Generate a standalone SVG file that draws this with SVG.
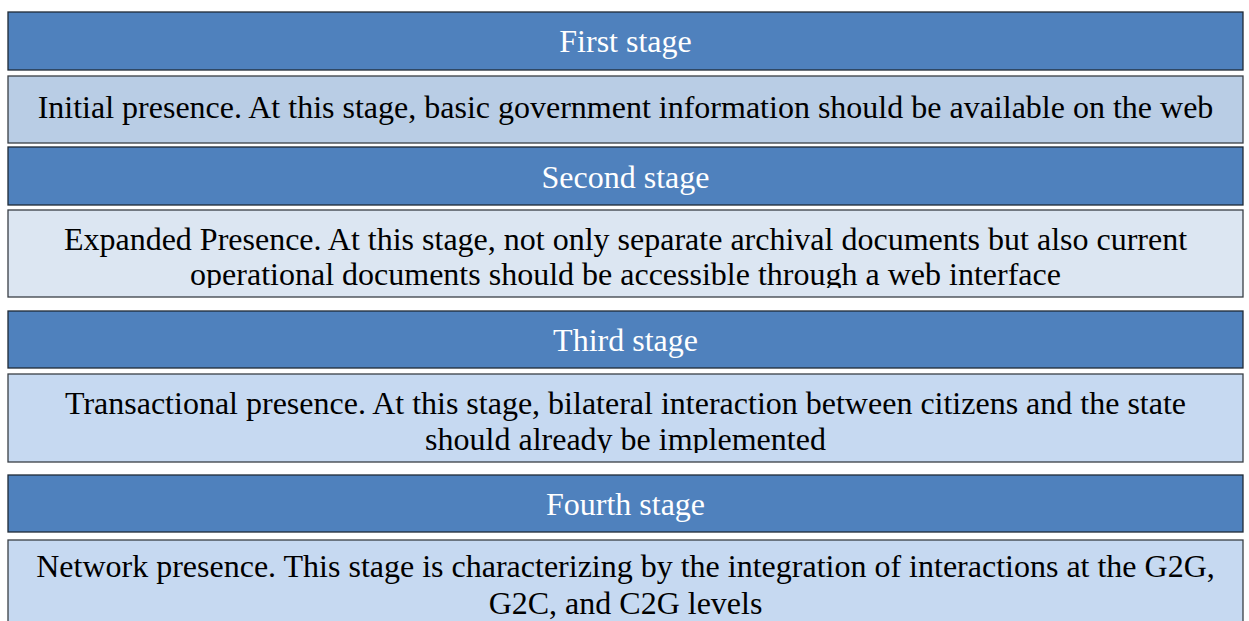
<svg xmlns="http://www.w3.org/2000/svg" width="1249" height="621" viewBox="0 0 1249 621">
<style>
.hdr{fill:#4F81BD;stroke:#1f2a36;stroke-width:1.3}
.d1{fill:#B9CDE5;stroke:#3a3f45;stroke-width:1.3}
.d2{fill:#DCE6F2;stroke:#3a3f45;stroke-width:1.3}
.d3{fill:#C6D9F1;stroke:#3a3f45;stroke-width:1.3}
.ht{font-family:"Liberation Serif","Times New Roman",serif;font-size:32px;fill:#ffffff;text-anchor:middle}
.dt{font-family:"Liberation Serif","Times New Roman",serif;font-size:32px;fill:#000000;text-anchor:middle}
</style>
<defs>
<clipPath id="c2"><rect x="8" y="210" width="1235" height="78"/></clipPath>
<clipPath id="c3"><rect x="8" y="374" width="1235" height="79"/></clipPath>
</defs>
<rect width="1249" height="621" fill="#ffffff"/>
<g id="stage1-header">
<rect class="hdr" x="8" y="12" width="1235" height="58"/>
<text class="ht" x="625.5" y="52">First stage</text>
</g>
<g id="stage1-desc">
<rect class="d1" x="8" y="76" width="1235" height="67"/>
<text class="dt" x="625.5" y="118">Initial presence. At this stage, basic government information should be available on the web</text>
</g>
<g id="stage2-header">
<rect class="hdr" x="8" y="147" width="1235" height="58"/>
<text class="ht" x="625.5" y="188">Second stage</text>
</g>
<g id="stage2-desc">
<rect class="d2" x="8" y="210" width="1235" height="87"/>
<g clip-path="url(#c2)">
<text class="dt" x="625.5" y="250">Expanded Presence. At this stage, not only separate archival documents but also current</text>
<text class="dt" x="625.5" y="285">operational documents should be accessible through a web interface</text>
</g>
</g>
<g id="stage3-header">
<rect class="hdr" x="8" y="311" width="1235" height="57"/>
<text class="ht" x="625.5" y="351">Third stage</text>
</g>
<g id="stage3-desc">
<rect class="d3" x="8" y="374" width="1235" height="88"/>
<g clip-path="url(#c3)">
<text class="dt" x="625.5" y="414">Transactional presence. At this stage, bilateral interaction between citizens and the state</text>
<text class="dt" x="625.5" y="450">should already be implemented</text>
</g>
</g>
<g id="stage4-header">
<rect class="hdr" x="8" y="475" width="1235" height="57"/>
<text class="ht" x="625.5" y="515">Fourth stage</text>
</g>
<g id="stage4-desc">
<rect class="d3" x="8" y="540" width="1235" height="90"/>
<text class="dt" x="625.5" y="577">Network presence. This stage is characterizing by the integration of interactions at the G2G,</text>
<text class="dt" x="625.5" y="614">G2C, and C2G levels</text>
</g>
<g id="connectors"/>
</svg>
